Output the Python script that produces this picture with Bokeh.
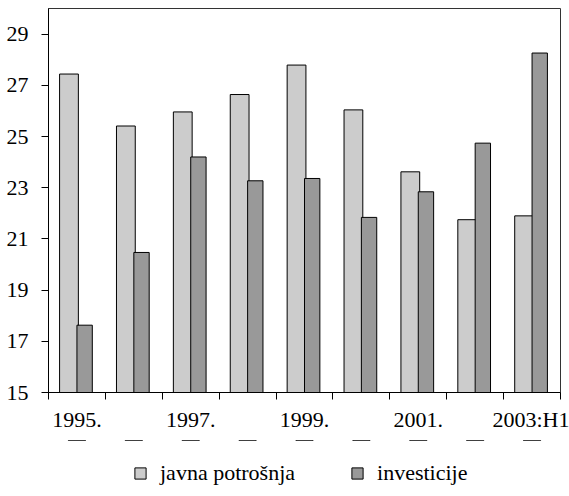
import numpy as np
from bokeh.plotting import figure
from bokeh.layouts import column
from bokeh.models import FixedTicker, Range1d, Legend, LegendItem
from bokeh.embed import file_html
from bokeh.resources import INLINE

categories = ["1995", "1996", "1997", "1998", "1999", "2000", "2001", "2002", "2003:H1"]
tick_labels = {0.5: "1995.", 2.5: "1997.", 4.5: "1999.", 6.5: "2001.", 8.5: "2003:H1"}
javna_potrosnja = [27.44, 25.41, 25.96, 26.64, 27.79, 26.04, 23.62, 21.75, 21.90]
investicije = [17.63, 20.47, 24.20, 23.27, 23.36, 21.84, 22.84, 24.74, 28.26]
y_ticks = [15, 17, 19, 21, 23, 25, 27, 29]
series_names = ["javna potrošnja", "investicije"]
series_colors = ["#cccccc", "#999999"]

FONT = "Liberation Serif"
FS = "22px"
idx = np.arange(len(categories))

p = figure(width=569, height=440, output_backend="svg", toolbar_location=None,
           x_range=Range1d(0, len(categories)), y_range=Range1d(15, 30),
           min_border_left=48, min_border_right=9, min_border_top=8, min_border_bottom=48)

p.vbar(x=idx + 0.36, top=javna_potrosnja, bottom=15, width=0.33,
       fill_color=series_colors[0], line_color="black", line_width=1)
p.vbar(x=idx + 0.635, top=investicije, bottom=15, width=0.27,
       fill_color=series_colors[1], line_color="black", line_width=1)

p.grid.visible = False
p.outline_line_color = "#333333"
p.outline_line_width = 1

# y axis
p.yaxis.ticker = FixedTicker(ticks=y_ticks, minor_ticks=[])
p.yaxis.major_tick_out = 7
p.yaxis.major_tick_in = 0
p.yaxis.major_label_standoff = 13
p.yaxis.major_label_text_font = FONT
p.yaxis.major_label_text_font_size = FS
p.yaxis.major_label_text_color = "black"
p.yaxis.axis_line_color = "black"
p.yaxis.major_tick_line_color = "black"

# x axis
p.xaxis.ticker = FixedTicker(ticks=list(tick_labels.keys()),
                             minor_ticks=[float(i) for i in range(len(categories) + 1)])
p.xaxis.major_label_overrides = tick_labels
p.xaxis.major_tick_out = 0
p.xaxis.major_tick_in = 0
p.xaxis.minor_tick_out = 7
p.xaxis.minor_tick_in = 0
p.xaxis.minor_tick_line_color = "black"
p.xaxis.minor_tick_line_width = 1
p.xaxis.major_label_standoff = 7
p.xaxis.major_label_text_font = FONT
p.xaxis.major_label_text_font_size = FS
p.xaxis.major_label_text_color = "black"
p.xaxis.axis_line_color = "black"

# legend strip below the chart (its bars lie outside its visible range; only the legend shows)
p2 = figure(width=569, height=56, output_backend="svg", toolbar_location=None,
            x_range=Range1d(0, len(categories)), y_range=Range1d(0, 1),
            min_border_left=0, min_border_right=0, min_border_top=0, min_border_bottom=0)
p2.axis.visible = False
p2.grid.visible = False
p2.outline_line_color = None

items = []
for name, color, vals in zip(series_names, series_colors, [javna_potrosnja, investicije]):
    r = p2.vbar(x=idx + 0.5, top=vals, bottom=15, width=0.3,
                fill_color=color, line_color="black", line_width=1)
    items.append(LegendItem(label=name, renderers=[r]))

legend = Legend(items=items, orientation="horizontal", location=(85, 10),
                glyph_width=14, glyph_height=14, label_standoff=13,
                spacing=55,
                label_text_font=FONT, label_text_font_size=FS,
                label_text_color="black",
                border_line_color=None, background_fill_alpha=0,
                margin=0, padding=0)
p2.add_layout(legend, "center")

open("out.html", "w").write(file_html(column(p, p2), INLINE))
